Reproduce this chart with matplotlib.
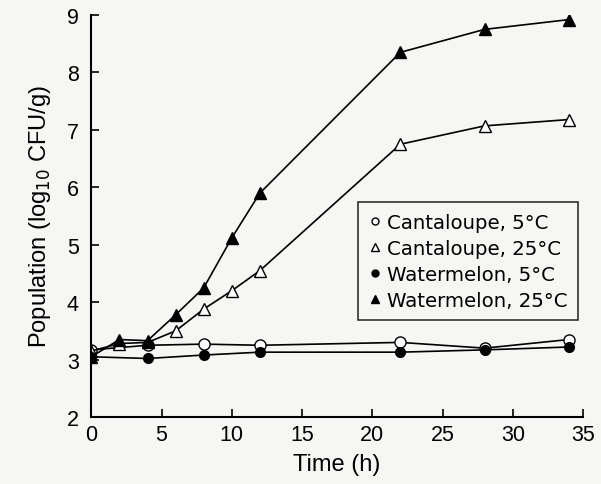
import matplotlib
matplotlib.use("Agg")
from matplotlib import pyplot as plt

plt.rcParams['font.family'] = ['Liberation Sans', 'DejaVu Sans']

# data
t_cant5 = [0, 4, 8, 12, 22, 28, 34]
cant_5 = [3.17, 3.25, 3.27, 3.25, 3.30, 3.20, 3.35]

t_25 = [0, 2, 4, 6, 8, 10, 12, 22, 28, 34]
cant_25 = [3.15, 3.28, 3.30, 3.50, 3.88, 4.20, 4.55, 6.75, 7.07, 7.18]

t_wm5 = [0, 4, 8, 12, 22, 28, 34]
wm_5 = [3.05, 3.02, 3.08, 3.13, 3.13, 3.17, 3.22]

wm_25 = [3.05, 3.35, 3.33, 3.78, 4.25, 5.12, 5.90, 8.35, 8.75, 8.92]

labels = ["Cantaloupe, 5°C", "Cantaloupe, 25°C", "Watermelon, 5°C", "Watermelon, 25°C"]

fig = plt.figure(figsize=(6.01, 4.85), dpi=100, facecolor='#f6f6f4')
ax = fig.add_axes([0.152, 0.138, 0.818, 0.829])
ax.set_facecolor('#f6f6f4')

lw = 1.2
ax.plot(t_cant5, cant_5, color='black', lw=lw, marker='o', ms=8, mfc='white', mec='black', mew=1.0)
ax.plot(t_25, cant_25, color='black', lw=lw, marker='^', ms=9, mfc='white', mec='black', mew=1.0)
ax.plot(t_wm5, wm_5, color='black', lw=lw, marker='o', ms=7, mfc='black', mec='black')
ax.plot(t_25, wm_25, color='black', lw=lw, marker='^', ms=9, mfc='black', mec='black')

# legend with small markers like the original
handles = [
    plt.Line2D([], [], ls='none', marker='o', ms=5, mfc='white', mec='black'),
    plt.Line2D([], [], ls='none', marker='^', ms=6, mfc='white', mec='black'),
    plt.Line2D([], [], ls='none', marker='o', ms=5, mfc='black', mec='black'),
    plt.Line2D([], [], ls='none', marker='^', ms=6, mfc='black', mec='black'),
]
leg = ax.legend(handles, labels, loc='upper left', bbox_to_anchor=(0.543, 0.535),
                prop={'family': 'DejaVu Sans', 'size': 14.2}, frameon=True,
                fancybox=False, handlelength=0.6, handletextpad=0.3,
                borderpad=0.55, labelspacing=0.35, borderaxespad=0)
leg.get_frame().set_edgecolor('black')
leg.get_frame().set_linewidth(1.2)
leg.get_frame().set_facecolor('#f6f6f4')

ax.set_xlim(0, 35)
ax.set_ylim(2, 9)
ax.set_xticks(range(0, 36, 5))
ax.set_yticks(range(2, 10))
ax.tick_params(direction='in', length=6, width=1.2, labelsize=15.5)
ax.tick_params(axis='y', pad=9)
ax.tick_params(axis='x', pad=5)
ax.spines['top'].set_visible(False)
ax.spines['right'].set_visible(False)
ax.spines['left'].set_linewidth(1.5)
ax.spines['bottom'].set_linewidth(1.5)

ax.set_xlabel("Time (h)", fontsize=17, labelpad=6)
ax.set_ylabel("Population (log$_{10}$ CFU/g)", fontsize=17, labelpad=10)

plt.savefig("out.png", dpi=100, facecolor=fig.get_facecolor())
